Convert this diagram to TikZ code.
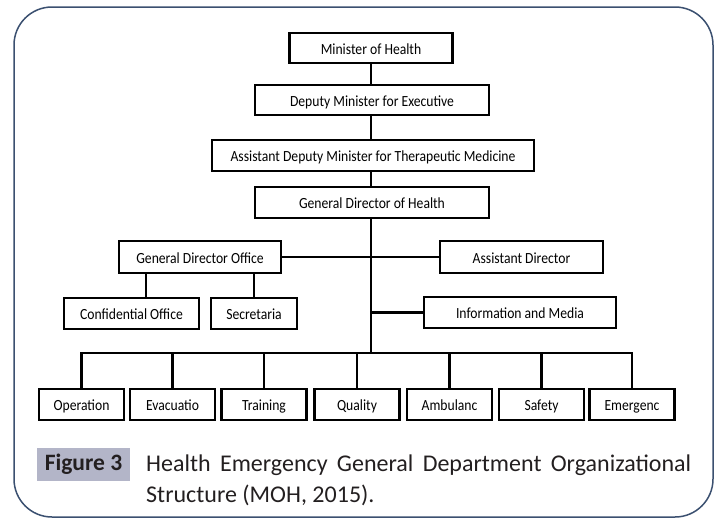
\documentclass[tikz,border=0pt]{standalone}
\usepackage{fontspec}
\setmainfont{Carlito}
\newfontfamily\boxfont[FakeStretch=0.88]{Carlito}
\definecolor{framecol}{HTML}{3B5070}
\definecolor{figgray}{HTML}{B3B5C8}
\definecolor{captext}{HTML}{231F20}
\begin{document}
\begin{tikzpicture}[x=1pt,y=-1pt,
  obox/.style={draw=black, line width=2.5pt, fill=white, minimum height=31pt, inner sep=0pt,
     text height=12pt, text depth=0pt,
     font=\boxfont\fontsize{15.5}{17}\selectfont},
  conn/.style={draw=black, line width=2.3pt}]
\useasboundingbox (0,0) rectangle (717,520);
\draw[framecol, line width=1.5pt, rounded corners=38pt] (14,7) rectangle (713,517);

\coordinate (bus) at (371,353);

\node[obox, minimum width=163pt, minimum height=30pt] (min) at (371,48) {Minister of Health};
\node[obox, minimum width=234pt, minimum height=30pt] (dep) at (372,100) {Deputy Minister for Executive};
\node[obox, minimum width=322pt] (adm) at (373,155.5) {Assistant Deputy Minister for Therapeutic Medicine};
\node[obox, minimum width=234pt] (gdh) at (372,202.5) {General Director of Health};
\node[obox, minimum width=162pt, minimum height=32pt] (gdo) at (200,257) {General Director Office};
\node[obox, minimum width=163pt, minimum height=32pt] (ad) at (521.5,257) {Assistant Director};
\node[obox, minimum width=135pt] (conf) at (131.5,313.5) {Confidential Office};
\node[obox, minimum width=86pt] (sec) at (254,313.5) {Secretaria};
\node[obox, minimum width=192pt] (info) at (520,312.5) {Information and Media};

\foreach \n/\x/\t in {op/81.5/Operation, ev/172.5/Evacuatio, tr/264/Training, qu/357/Quality,
   am/449.5/Ambulanc, sa/541.5/Safety, em/632/Emergenc}
  \node[obox, minimum width=85pt] (\n) at (\x,404.5) {\t};

\draw[conn] (min.south -| bus) -- (dep.north -| bus);
\draw[conn] (dep.south -| bus) -- (adm.north -| bus);
\draw[conn] (adm.south -| bus) -- (gdh.north -| bus);
\draw[conn] (gdh.south -| bus) -- (bus);
\draw[conn] (gdo.east) -- (ad.west);
\draw[conn] (info.west -| bus) -- (info.west);
\draw[conn] ([xshift=14.5pt]conf.north) -- ([xshift=14.5pt]conf.north |- gdo.south);
\draw[conn] (sec.north) -- (sec.north |- gdo.south);
\draw[conn] ([xshift=-1.15pt]op.north |- bus) -- ([xshift=1.15pt]em.north |- bus);
\foreach \n in {op,ev,tr,qu,am,sa,em}
  \draw[conn] (\n.north) -- (\n.north |- bus);

\node[fill=figgray, minimum width=93pt, minimum height=33pt, inner sep=0pt] (figlab) at (83.5,464.5) {};
\node[font=\bfseries\fontsize{23.5}{27}\selectfont, text=captext, inner sep=0pt] (figtxt) at (figlab) {Figure 3};
\node[anchor=west, inner sep=0pt, text=captext, font=\fontsize{24}{28}\selectfont] (cap1) at (146,465)
  {\makebox[545pt][s]{Health Emergency General Department Organizational}};
\node[anchor=west, inner sep=0pt, text=captext, font=\fontsize{24}{28}\selectfont] (cap2) at (146,495)
  {Structure (MOH, 2015).};
\end{tikzpicture}
\end{document}
